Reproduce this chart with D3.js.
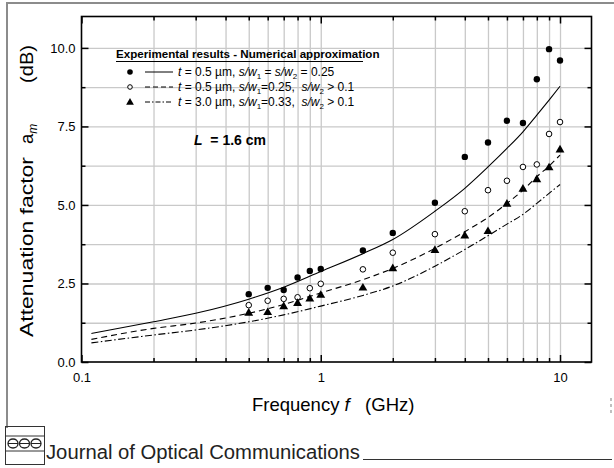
<!DOCTYPE html>
<html><head><meta charset="utf-8">
<script src="https://cdn.jsdelivr.net/npm/d3@7"></script>
<style>
body{margin:0;background:#fff}
svg{display:block}
text{font-family:Arial,"Liberation Sans",sans-serif;white-space:pre}
</style>
</head><body>
<svg id="c" width="614" height="468"></svg>
<script>
// ---- data ----
const xMajorTicks = [0.1, 1, 10];
const xTickLabels = ["0.1", "1", "10"];
const xMinorTicks = [0.2,0.3,0.4,0.5,0.6,0.7,0.8,0.9,2,3,4,5,6,7,8,9];
const yMajorTicks = [0, 2.5, 5, 7.5, 10];
const yTickLabels = ["0.0", "2.5", "5.0", "7.5", "10.0"];
const yMinorTicks = [1.25, 3.75, 6.25, 8.75];
const yGrid = [1.25,2.5,3.75,5,6.25,7.5,8.75,10];

const freqs = [0.5,0.6,0.7,0.8,0.9,1,1.5,2,3,4,5,6,7,8,9,10];
const expA = [2.16,2.36,2.29,2.69,2.90,2.96,3.55,4.11,5.07,6.53,6.99,7.68,7.61,9.00,9.96,9.60]; // filled circles
const expB = [1.81,1.95,2.01,2.06,2.35,2.49,2.95,3.48,4.07,4.80,5.47,5.77,6.21,6.29,7.26,7.64]; // open circles
const expC = [1.58,1.60,1.79,1.89,2.03,2.15,2.38,3.00,3.58,4.04,4.18,5.05,5.53,5.83,6.21,6.78]; // triangles

const curveFreqs = [0.11,0.2,0.3,0.5,0.7,1,1.5,2,3,4,5,6,7,8,9,10];
const numA = [0.91,1.28,1.55,2.00,2.38,2.88,3.45,3.90,4.80,5.53,6.21,6.80,7.33,7.86,8.34,8.78];
const numB = [0.72,1.07,1.24,1.55,1.83,2.20,2.62,2.98,3.62,4.15,4.60,5.05,5.47,5.90,6.24,6.59];
const numC = [0.61,0.86,1.02,1.28,1.50,1.78,2.12,2.42,3.05,3.58,4.02,4.39,4.70,5.05,5.37,5.65];

// ---- layout ----
const svg = d3.select("#c");
const L = 81.5, R = 591.5, T = 16.5, B = 362;
const x = d3.scaleLog().domain([0.1, 13.54]).range([L, R]);
const y = d3.scaleLinear().domain([0, 11]).range([B, T]);
const gridCol = "#c9c9c9";

// outer frame (gray)
svg.append("path").attr("d","M7,428 L7,3 L614,3").attr("fill","none").attr("stroke","#8c8c8c").attr("stroke-width",2);
svg.append("path").attr("d","M611,398 L611,401 M611,404 L611,407 M611,410 L611,413").attr("stroke","#aaa").attr("stroke-width",1.5);

// grids
const gx = svg.append("g").attr("transform",`translate(0,${B})`)
  .call(d3.axisBottom(x).tickValues(xMinorTicks.concat([1,10])).tickSize(-(B-T)).tickFormat(""));
gx.select(".domain").remove();
gx.selectAll("line").attr("stroke",gridCol).attr("stroke-width",1.3);
const gy = svg.append("g").attr("transform",`translate(${L},0)`)
  .call(d3.axisLeft(y).tickValues(yGrid).tickSize(-(R-L)).tickFormat(""));
gy.select(".domain").remove();
gy.selectAll("line").attr("stroke",gridCol).attr("stroke-width",1.3);

// ticks (inward) on all four sides
function styleAxis(g){ g.select(".domain").remove(); g.selectAll("line").attr("stroke","#000").attr("stroke-width",1.5); g.selectAll("text").attr("fill","#000"); }
svg.append("g").attr("transform",`translate(0,${B})`)
  .call(d3.axisBottom(x).tickValues(xMajorTicks).tickSize(-7).tickPadding(11).tickFormat((d,i)=>xTickLabels[i]))
  .call(styleAxis).attr("font-size",13).attr("font-family",null);
svg.append("g").attr("transform",`translate(0,${B})`)
  .call(d3.axisBottom(x).tickValues(xMinorTicks).tickSize(-4).tickFormat("")).call(styleAxis);
svg.append("g").attr("transform",`translate(0,${T})`)
  .call(d3.axisTop(x).tickValues(xMajorTicks).tickSize(-7).tickFormat("")).call(styleAxis);
svg.append("g").attr("transform",`translate(0,${T})`)
  .call(d3.axisTop(x).tickValues(xMinorTicks).tickSize(-4).tickFormat("")).call(styleAxis);
svg.append("g").attr("transform",`translate(${L},0)`)
  .call(d3.axisLeft(y).tickValues(yMajorTicks).tickSize(-7).tickPadding(6).tickFormat((d,i)=>yTickLabels[i]))
  .call(styleAxis).attr("font-size",13).attr("font-family",null);
svg.append("g").attr("transform",`translate(${L},0)`)
  .call(d3.axisLeft(y).tickValues(yMinorTicks).tickSize(-4).tickFormat("")).call(styleAxis);
svg.append("g").attr("transform",`translate(${R},0)`)
  .call(d3.axisRight(y).tickValues(yMajorTicks).tickSize(-7).tickFormat("")).call(styleAxis);
svg.append("g").attr("transform",`translate(${R},0)`)
  .call(d3.axisRight(y).tickValues(yMinorTicks).tickSize(-4).tickFormat("")).call(styleAxis);

// plot frame
svg.append("rect").attr("x",L).attr("y",T).attr("width",R-L).attr("height",B-T)
  .attr("fill","none").attr("stroke","#000").attr("stroke-width",1.6);

// curves
const line = d3.line().x(d=>x(d[0])).y(d=>y(d[1])).curve(d3.curveMonotoneX);
const dashes = [null, "6,4", "7,2.5,1.5,2.5"];
[numA,numB,numC].forEach((s,i)=>{
  svg.append("path").datum(curveFreqs.map((f,j)=>[f,s[j]]))
    .attr("d",line).attr("fill","none").attr("stroke","#000").attr("stroke-width",1.1)
    .attr("stroke-dasharray",dashes[i]);
});

// experimental points
const tri = d3.symbol().type(d3.symbolTriangle).size(34);
svg.append("g").selectAll("circle").data(freqs).join("circle")
  .attr("cx",d=>x(d)).attr("cy",(d,i)=>y(expA[i])).attr("r",3.2).attr("fill","#000");
svg.append("g").selectAll("circle").data(freqs).join("circle")
  .attr("cx",d=>x(d)).attr("cy",(d,i)=>y(expB[i])).attr("r",2.8).attr("fill","#fff").attr("stroke","#000").attr("stroke-width",1);
svg.append("g").selectAll("path").data(freqs).join("path")
  .attr("transform",(d,i)=>`translate(${x(d)},${y(expC[i])+0.8})`).attr("d",tri).attr("fill","#000");

// legend
const lg = svg.append("g").attr("font-size",12);
lg.append("text").attr("x",116).attr("y",58).attr("font-weight","bold").attr("font-size",11.6)
  .text("Experimental results - Numerical approximation");
lg.append("line").attr("x1",116).attr("x2",363).attr("y1",61.5).attr("y2",61.5).attr("stroke","#000").attr("stroke-width",1.2);
const rows = [
  {y:72, dash:null, parts:[["t","i"],[" = 0.5 µm, "],["s/w","i"],["1","sub"],[" = "],["s/w","i"],["2","sub"],[" = 0.25"]]},
  {y:87, dash:"5,3", parts:[["t","i"],[" = 0.5 µm, "],["s/w","i"],["1","sub"],["=0.25,  "],["s/w","i"],["2","sub"],[" > 0.1"]]},
  {y:102, dash:"5,2,1.5,2", parts:[["t","i"],[" = 3.0 µm, "],["s/w","i"],["1","sub"],["=0.33,  "],["s/w","i"],["2","sub"],[" > 0.1"]]}
];
rows.forEach((r,i)=>{
  if(i===0) lg.append("circle").attr("cx",130).attr("cy",r.y).attr("r",2.8).attr("fill","#000");
  if(i===1) lg.append("circle").attr("cx",130).attr("cy",r.y).attr("r",2.3).attr("fill","#fff").attr("stroke","#000");
  if(i===2) lg.append("path").attr("transform",`translate(130,${r.y+0.5})`).attr("d",d3.symbol().type(d3.symbolTriangle).size(26)()).attr("fill","#000");
  lg.append("line").attr("x1",145).attr("x2",173).attr("y1",r.y).attr("y2",r.y)
    .attr("stroke","#000").attr("stroke-width",1).attr("stroke-dasharray",r.dash);
  const t = lg.append("text").attr("x",178).attr("y",r.y+4);
  r.parts.forEach(p=>{
    const ts = t.append("tspan").text(p[0]);
    if(p[1]==="i") ts.attr("font-style","italic");
    if(p[1]==="sub") ts.attr("font-size",8).attr("dy",3).attr("class","sub");
  });
  t.selectAll("tspan").each(function(d,j,nodes){
    if(j>0 && d3.select(nodes[j-1]).classed("sub")) d3.select(this).attr("dy",-3);
  });
});

// L = 1.6 cm
const lt = svg.append("text").attr("x",194).attr("y",145).attr("font-size",14).attr("font-weight","bold");
lt.append("tspan").attr("font-style","italic").text("L");
lt.append("tspan").text("  = 1.6 cm");

// axis titles
const xt = svg.append("text").attr("x",252).attr("y",411).attr("font-size",18.5);
xt.append("tspan").text("Frequency ");
xt.append("tspan").attr("font-style","italic").text("f");
xt.append("tspan").text("   (GHz)");

const yt = svg.append("g").attr("transform","translate(33,337) rotate(-90)").attr("font-size",18.5);
yt.append("text").attr("x",0).attr("textLength",180).attr("lengthAdjust","spacingAndGlyphs").text("Attenuation factor");
const ya = yt.append("text").attr("x",193);
ya.append("tspan").text("a");
ya.append("tspan").attr("font-size",12).attr("font-style","italic").attr("dy",4).text("m");
yt.append("text").attr("x",254).attr("textLength",38).attr("lengthAdjust","spacingAndGlyphs").text("(dB)");

// footer
const ft = svg.append("g").attr("transform","translate(5,426)");
ft.append("rect").attr("x",0.5).attr("y",0.5).attr("width",39).attr("height",38).attr("fill","none").attr("stroke","#333").attr("stroke-width",1);
ft.append("line").attr("x1",0.5).attr("x2",39.5).attr("y1",10).attr("y2",10).attr("stroke","#333");
ft.append("line").attr("x1",0.5).attr("x2",39.5).attr("y1",25).attr("y2",25).attr("stroke","#333");
[8,19.5,31].forEach(cx=>{
  ft.append("ellipse").attr("cx",cx).attr("cy",17.5).attr("rx",5).attr("ry",4.5).attr("fill","none").attr("stroke","#222").attr("stroke-width",1.3);
  ft.append("line").attr("x1",cx-5).attr("x2",cx+5).attr("y1",17.5).attr("y2",17.5).attr("stroke","#222").attr("stroke-width",1);
});
svg.append("text").attr("x",46).attr("y",459).attr("font-size",20).attr("font-family","Lato, 'Open Sans', sans-serif")
  .attr("fill","#222").attr("textLength",314).attr("lengthAdjust","spacingAndGlyphs").text("Journal of Optical Communications");
svg.append("line").attr("x1",363).attr("x2",612).attr("y1",459.5).attr("y2",459.5).attr("stroke","#333").attr("stroke-width",1.2);
</script>
</body></html>
